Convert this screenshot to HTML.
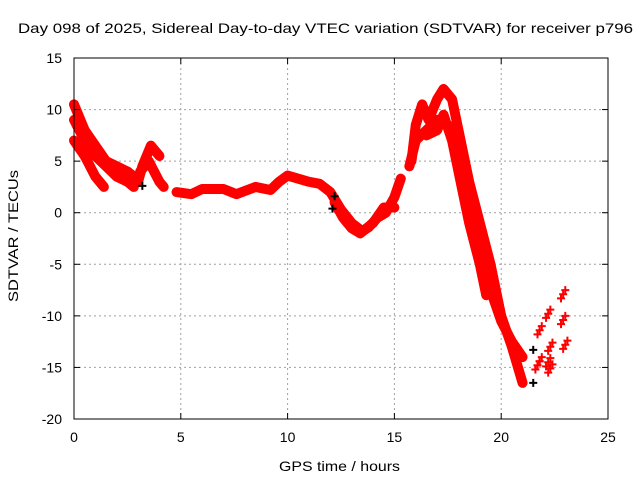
<!DOCTYPE html>
<html><head><meta charset="utf-8"><style>
body{margin:0;background:#fff;}
svg{display:block;font-family:"Liberation Sans",sans-serif;}
</style></head><body>
<svg id="chart" width="640" height="480">
<text x="18" y="33" font-size="14" textLength="615" lengthAdjust="spacingAndGlyphs">Day 098 of 2025, Sidereal Day-to-day VTEC variation (SDTVAR) for receiver p796</text>
<text x="279" y="471" font-size="14" textLength="121" lengthAdjust="spacingAndGlyphs">GPS time / hours</text>
<text x="18" y="302" font-size="14" textLength="132" lengthAdjust="spacingAndGlyphs" transform="rotate(-90 18 302)">SDTVAR / TECUs</text>
<g id="grid"></g><g id="marks"></g><g id="axes"></g>
</svg>
<script>
const xTicks=[0,5,10,15,20,25];
const yTicks=[15,10,5,0,-5,-10,-15,-20];
const trackA=[[0,10.5],[0.5,8],[1,6.5],[1.5,5],[2,4.5],[2.5,4],[3,3.2]];
const trackB=[[0,7],[0.5,5.5],[1,3.5],[1.4,2.5]];
const trackC=[[0,9],[0.5,7],[1,5.5],[1.5,4.5],[2,3.5],[2.5,3],[2.8,2.5]];
const trackD=[[2.5,4],[3,3],[3.2,4.5],[3.6,6.5],[4,5.5]];
const trackE=[[3.1,4],[3.5,5],[4,3],[4.2,2.5]];
const trackF=[[4.8,2],[5.5,1.8],[6,2.3],[7,2.3],[7.6,1.8],[8.5,2.5],[9.2,2.2],[9.6,3],[10,3.6],[11,3],[11.5,2.8],[12,2],[12.5,0.3],[13,-1],[13.5,-1.8],[13.8,-1.4],[14.2,-0.5],[14.6,0],[15,1.5],[15.3,3.3]];
const trackG=[[12.2,1],[12.6,-0.5],[13,-1.5],[13.4,-2],[14,-1],[14.5,0.5],[15,0.5]];
const trackH=[[15.8,5],[16,8.5],[16.3,10.5],[16.6,9],[17,11],[17.3,12],[17.7,11],[18,8],[18.5,3],[19,-1],[19.5,-5],[20,-10],[20.5,-13],[21,-16.5]];
const trackI=[[15.7,4.5],[16,7],[16.5,8],[17,9],[17.5,8.5],[18,5],[18.5,0],[19,-4],[19.5,-7.5],[20,-10.5],[20.5,-12.5],[21,-14]];
const trackJ=[[16.5,7.5],[17,8],[17.3,9.5],[17.7,7],[18,4],[18.5,-1],[19,-5],[19.3,-8]];
const pointsT=[21.7,22.1,22.8,21.7,22.2,22.8,21.6,22.2,22.9,22.1];
const pointsV=[-11.8,-10.2,-8.3,-14.8,-13.4,-10.8,-15.2,-15.5,-13.2,-14.9];
const blackT=[3.2,12.2,12.1,21.5,21.5];
const blackV=[2.6,1.6,0.4,-13.3,-16.5];
const NS="http://www.w3.org/2000/svg";
const X=t=>74+t*(534/25), Y=v=>58+(15-v)*(361/35);
function mk(tag,attrs,parent){const e=document.createElementNS(NS,tag);for(const k in attrs)e.setAttribute(k,attrs[k]);parent.appendChild(e);return e;}
const grid=document.getElementById('grid'),marks=document.getElementById('marks'),axes=document.getElementById('axes');
xTicks.forEach(t=>{
  if(t>0&&t<25){const l=mk('line',{x1:X(t),x2:X(t),y1:58,y2:419,stroke:'#a0a0a0','stroke-dasharray':'2,3'},grid);
  
  }
  const tx=mk('text',{x:X(t),y:442,'font-size':14,'text-anchor':'middle'},axes);tx.textContent=t;
  
  
  mk('line',{x1:X(t),x2:X(t),y1:419,y2:413,stroke:'#000'},axes);
  mk('line',{x1:X(t),x2:X(t),y1:58,y2:64,stroke:'#000'},axes);
});
yTicks.forEach(v=>{
  if(v<15&&v>-20){const l=mk('line',{x1:74,x2:608,y1:Y(v),y2:Y(v),stroke:'#a0a0a0','stroke-dasharray':'2,3'},grid);
  
  }
  const tx=mk('text',{x:62,y:Y(v)+5,'font-size':14,'text-anchor':'end'},axes);tx.textContent=v;
  
  
  mk('line',{x1:74,x2:80,y1:Y(v),y2:Y(v),stroke:'#000'},axes);
  mk('line',{x1:608,x2:602,y1:Y(v),y2:Y(v),stroke:'#000'},axes);
});
const fr=mk('rect',{x:74,y:58,width:534,height:361,fill:'none',stroke:'#000'},axes);


[trackA,trackB,trackC,trackD,trackE,trackF,trackG,trackH,trackI,trackJ].forEach(tr=>{
  const p=mk('polyline',{points:tr.map(d=>X(d[0])+','+Y(d[1])).join(' '),fill:'none',stroke:'#f00','stroke-width':10,'stroke-linejoin':'round','stroke-linecap':'round'},marks);
  
  
});
function plus(t,v,c,name){const g=mk('path',{d:`M${X(t)-4},${Y(v)}h8M${X(t)},${Y(v)-4}v8`,stroke:c,'stroke-width':2},marks);
  
  }
pointsT.forEach((t,i)=>{plus(t,pointsV[i],'#f00','data-point');plus(t+0.1,pointsV[i]+0.4,'#f00','data-point');plus(t+0.2,pointsV[i]+0.8,'#f00','data-point');});
blackT.forEach((t,i)=>plus(t,blackV[i],'#000','black-point'));
</script>
</body></html>
